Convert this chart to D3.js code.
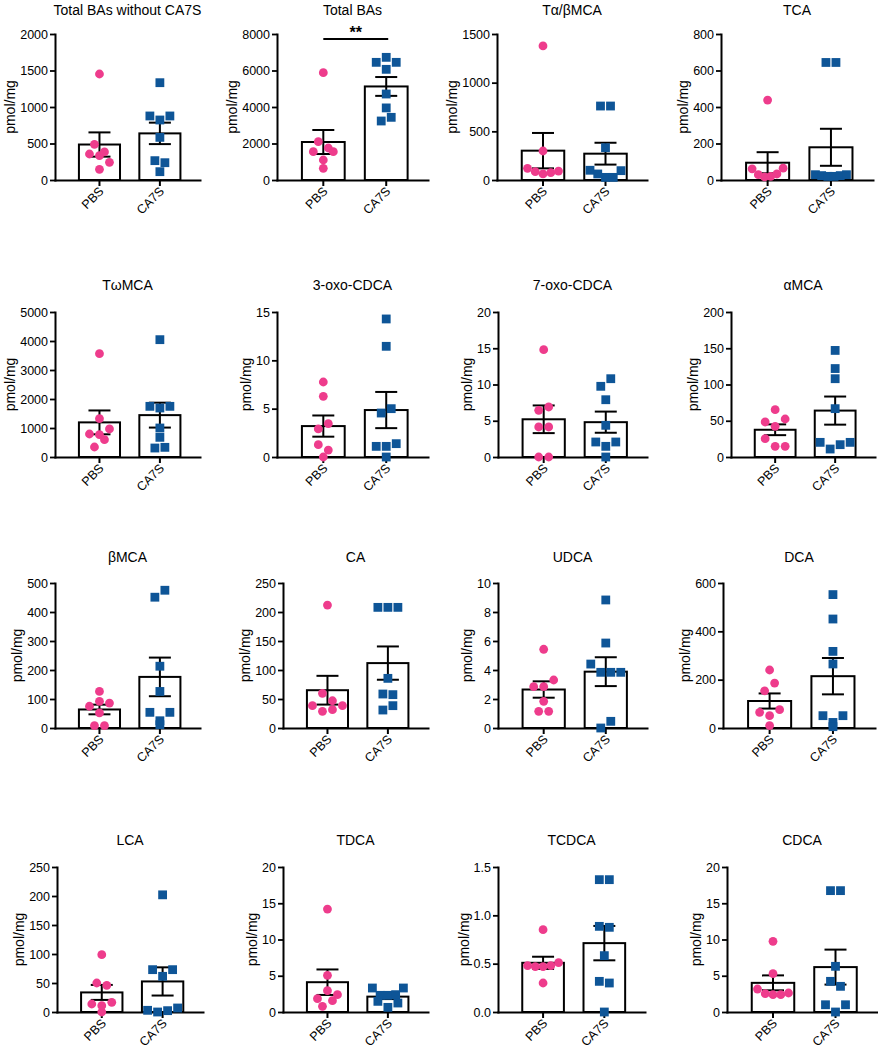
<!DOCTYPE html>
<html><head><meta charset="utf-8">
<script src="https://cdn.jsdelivr.net/npm/d3@7"></script>
<style>
body{margin:0;background:#fff}
svg{display:block}
text{font-family:"Liberation Sans",Arial,Helvetica,sans-serif;fill:#000}
</style>
</head><body>
<svg id="chart" width="878" height="1050"></svg>
<script>
// ---------------- data ----------------
const titles = ["Total BAs without CA7S","Total BAs","Tα/βMCA","TCA",
                "TωMCA","3-oxo-CDCA","7-oxo-CDCA","αMCA",
                "βMCA","CA","UDCA","DCA",
                "LCA","TDCA","TCDCA","CDCA"];
const groups = ["PBS","CA7S"];
const yLabel = "pmol/mg";

const pbsValues = [
  [1452, 489, 356, 333, 384, 146, 242],
  [5881, 2100, 1553, 1753, 1096, 1553, 639],
  [1377, 298, 120, 86, 62, 75, 92],
  [438, 61, 29, 17, 20, 33, 65],
  [3563, 1322, 793, 770, 966, 345, 598],
  [7.76, 6.28, 2.90, 3.45, 1.28, 0, 0.72],
  [14.8, 6.44, 6.9, 4.14, 4.14, 0, 0],
  [65.3, 48.3, 42.3, 52.4, 25.3, 14.7, 14.7],
  [126, 75, 92, 86, 52, 8, 8],
  [212, 59.8, 47, 38.5, 28.7, 31.6, 38.5],
  [5.43, 2.85, 2.85, 3.31, 1.84, 1.15, 1.15],
  [240, 154, 186, 65, 51, 76, 10],
  [98.9, 50, 46, 13.8, 0, 10.9, 16.7],
  [14.2, 5.06, 1.84, 2.94, 0.78, 2.39, 1.56],
  [0.852, 0.48, 0.47, 0.47, 0.48, 0.51, 0.30],
  [9.75, 5.29, 3.17, 2.53, 2.39, 2.39, 2.62]
];
const ca7sValues = [
  [1333, 877, 822, 877, 584, 265, 237, 114],
  [6447, 6721, 6447, 6064, 4712, 3950, 3233, 3434],
  [760, 760, 332, 100, 62, 27, 27, 96],
  [644, 644, 29, 24, 20, 20, 24, 29],
  [4046, 1747, 1690, 1747, 1000, 678, 310, 333],
  [14.28, 11.45, 4.55, 5.0, 1.10, 1.10, 1.38, 0],
  [9.75, 10.8, 7.9, 4.37, 2.07, 1.47, 2.07, 0],
  [147, 108, 122, 66.7, 20.2, 11, 17, 20.2],
  [451, 475, 213, 126, 54, 25, 54, 11.5],
  [208, 208, 208, 85.6, 58.6, 57.5, 31, 38.5],
  [8.83, 5.86, 4.41, 3.84, 3.84, 3.84, 0, 0.46],
  [552, 451, 317, 265, 51, 23, 51, 5.5],
  [202, 73, 61.5, 73, 2.9, 0, 2.3, 6.9],
  [3.31, 2.3, 2.3, 2.39, 3.31, 1.47, 0.64, 1.24],
  [1.369, 1.369, 0.886, 0.876, 0.583, 0.317, 0.30, 0],
  [16.74, 16.74, 6.3, 4.23, 3.54, 1.0, 0, 1.0]
];
const yTicks = [
  [0, 500, 1000, 1500, 2000],
  [0, 2000, 4000, 6000, 8000],
  [0, 500, 1000, 1500],
  [0, 200, 400, 600, 800],
  [0, 1000, 2000, 3000, 4000, 5000],
  [0, 5, 10, 15],
  [0, 5, 10, 15, 20],
  [0, 50, 100, 150, 200],
  [0, 100, 200, 300, 400, 500],
  [0, 50, 100, 150, 200, 250],
  [0, 2, 4, 6, 8, 10],
  [0, 200, 400, 600],
  [0, 50, 100, 150, 200, 250],
  [0, 5, 10, 15, 20],
  [0.0, 0.5, 1.0, 1.5],
  [0, 5, 10, 15, 20]
];
const significance = [{panel: 1, label: "**"}];

// ---------------- layout ----------------
const rowTop = [34, 312, 583, 867];
const rowZero = [180, 457, 728, 1012];
const titleBase = [15, 290, 562, 845];
const axisLeft  = [[55,277,497,721],[55,277,498,731],[55,283,498,723],[57,283,498,727]];
const axisRight = [[200,428,647,873],[200,428,647,875],[200,428,647,875],[203,428,645,877]];
const colors = {PBS: "#EE3C8C", CA7S: "#0E5597"};
const ROW_T = 8.95;

const svg = d3.select("#chart");

function layoutPoints(values, y, cx) {
  const pts = values.map((v, i) => ({v, i, py: y(v)}));
  const sorted = pts.slice().sort((a, b) => b.v - a.v || a.i - b.i);
  const rows = []; let cur = null;
  sorted.forEach(p => {
    if (cur && Math.abs(p.py - cur[0].py) < ROW_T) cur.push(p);
    else { cur = [p]; rows.push(cur); }
  });
  rows.forEach(r => {
    r.sort((a, b) => a.i - b.i);
    const n = r.length;
    const step = n > 1 ? Math.min(10, 31 / (n - 1)) : 0;
    r.forEach((p, k) => p.px = cx + (k - (n - 1) / 2) * step);
  });
  return pts;
}

titles.forEach((title, p) => {
  const r = Math.floor(p / 4), c = p % 4;
  const x0 = axisLeft[r][c], x1 = axisRight[r][c];
  const top = rowTop[r], zero = rowZero[r];
  const ticks = yTicks[p];
  const ymax = ticks[ticks.length - 1];
  const y = d3.scaleLinear().domain([0, ymax]).range([zero, top]);
  const x = d3.scaleBand().domain(groups).range([x0, x1])
              .paddingInner(0.32).paddingOuter(0.36).align(0.55);
  const bw = x.bandwidth();
  const g = svg.append("g");
  const dec = ticks.some(t => !Number.isInteger(t)) ? d3.format(".1f") : d3.format("d");

  // title
  g.append("text").attr("x", (x0 + x1) / 2).attr("y", titleBase[r])
    .attr("text-anchor", "middle").style("font-size", "14px").text(title);

  // bars
  const series = [pbsValues[p], ca7sValues[p]];
  const stats = groups.map((grp, k) => {
    const vals = series[k];
    const m = d3.mean(vals);
    const sem = d3.deviation(vals) / Math.sqrt(vals.length);
    return {grp, m, sem, vals};
  });
  g.selectAll("rect.bar").data(stats).join("rect")
    .attr("x", d => x(d.grp)).attr("width", bw)
    .attr("y", d => y(d.m)).attr("height", d => zero - y(d.m))
    .attr("fill", "#fff").attr("stroke", "#000").attr("stroke-width", 2);

  // axes
  const ya = g.append("g").attr("transform", `translate(${x0},0)`)
    .call(d3.axisLeft(y).tickValues(ticks).tickSize(5).tickSizeOuter(0).tickPadding(2).tickFormat(dec));
  ya.select(".domain").attr("stroke-width", 2).attr("stroke-linecap", "square");
  ya.selectAll(".tick line").attr("stroke-width", 1.8);
  ya.selectAll(".tick text").style("font-size", "12.5px").attr("font-family", null).attr("fill", "#000");
  let maxW = 0;
  ya.selectAll(".tick text").each(function(){ maxW = Math.max(maxW, this.getComputedTextLength()); });

  const xa = g.append("g").attr("transform", `translate(0,${zero})`)
    .call(d3.axisBottom(x).tickSize(6).tickSizeOuter(0).tickFormat(""));
  xa.select(".domain").attr("stroke-width", 2).attr("stroke-linecap", "square");
  xa.selectAll(".tick line").attr("stroke-width", 2);
  xa.selectAll(".tick").append("text")
    .attr("transform", "translate(5,12) rotate(-45)")
    .attr("text-anchor", "end").attr("fill", "#000")
    .style("font-size", "12.5px").text(d => d);

  // y label
  g.append("text")
    .attr("transform", `translate(${x0 - 7 - maxW - 5},${(top + zero) / 2}) rotate(-90)`)
    .attr("text-anchor", "middle").style("font-size", "14px").text(yLabel);

  // error bars
  stats.forEach(s => {
    const cx = x(s.grp) + bw / 2;
    const yt = y(s.m + s.sem), yb = y(s.m - s.sem);
    const e = g.append("g").attr("stroke", "#000").attr("stroke-width", 2);
    e.append("line").attr("x1", cx).attr("x2", cx).attr("y1", yt).attr("y2", yb);
    e.append("line").attr("x1", cx - 11).attr("x2", cx + 11).attr("y1", yt).attr("y2", yt);
    e.append("line").attr("x1", cx - 11).attr("x2", cx + 11).attr("y1", yb).attr("y2", yb);
  });

  // points
  const pbsPts = layoutPoints(pbsValues[p], y, x("PBS") + bw / 2);
  g.selectAll("circle.pt").data(pbsPts).join("circle")
    .attr("cx", d => d.px).attr("cy", d => d.py).attr("r", 4.4)
    .attr("fill", colors.PBS);
  const caPts = layoutPoints(ca7sValues[p], y, x("CA7S") + bw / 2);
  const sq = 8.8;
  g.selectAll("rect.pt").data(caPts).join("rect")
    .attr("x", d => d.px - sq / 2).attr("y", d => d.py - sq / 2)
    .attr("width", sq).attr("height", sq).attr("fill", colors.CA7S);

  // significance
  significance.filter(s => s.panel === p).forEach(s => {
    const xa1 = x("PBS") + bw / 2, xa2 = x("CA7S") + bw / 2 + 2;
    const ly = top + 5;
    g.append("line").attr("x1", xa1).attr("x2", xa2).attr("y1", ly).attr("y2", ly)
      .attr("stroke", "#000").attr("stroke-width", 2);
    g.append("text").attr("x", (xa1 + xa2) / 2).attr("y", ly - 1.5)
      .attr("text-anchor", "middle").style("font-size", "16px").style("font-weight", "bold").text(s.label);
  });
});
</script>
</body></html>
